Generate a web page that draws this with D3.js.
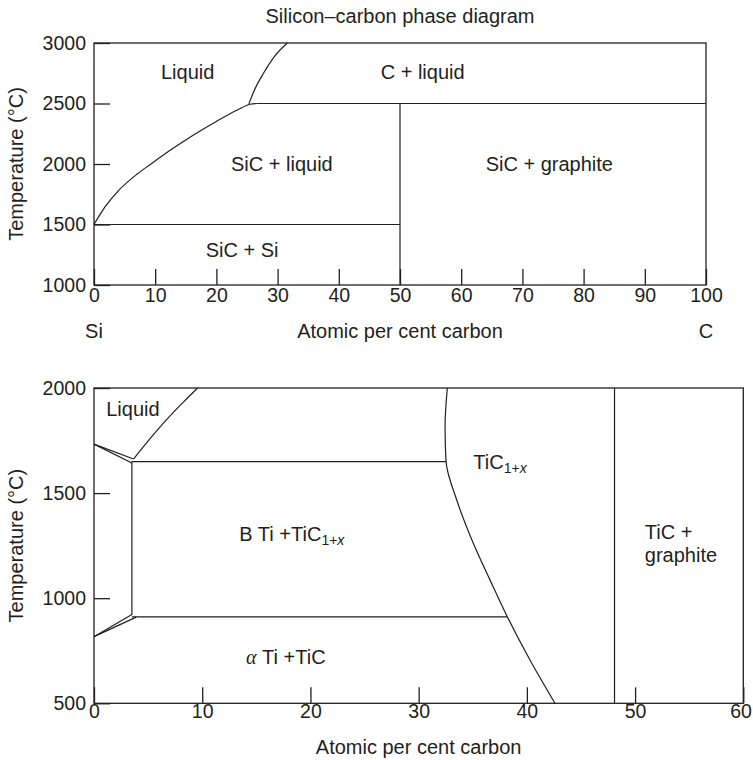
<!DOCTYPE html>
<html><head><meta charset="utf-8">
<script src="https://cdn.jsdelivr.net/npm/d3@7"></script>
<style>
body{margin:0;background:#fff}
svg text{font-family:"Liberation Sans",Arial,Helvetica,sans-serif;fill:#231f20}
</style>
</head><body>
<svg id="chart" width="753" height="760"></svg>
<script>
// ---------------- DATA ----------------
// Top panel: Si–C
const topTitle = "Silicon\u2013carbon phase diagram";
const topXDomain = [0, 100];
const topYDomain = [1000, 3000];
const topXTicks = [0, 10, 20, 30, 40, 50, 60, 70, 80, 90, 100];
const topYTicks = [1000, 1500, 2000, 2500, 3000];
const siLiquidus = [[0,1500],[1.8,1645],[4,1780],[7,1915],[9.3,2000],[12.5,2115],[16,2232],[20,2352],[23.5,2448],[25.5,2494],[26.6,2500]];
const siCLiquidus = [[25.3,2497],[26.2,2610],[27.7,2750],[29.5,2890],[31.6,3000]];
const siLines = [
  [[26.6,2500],[100,2500]],
  [[0,1500],[50,1500]],
  [[50,1000],[50,2500]]
];
const siLabels = [
  {t:"Liquid", x:15.3, y:2702},
  {t:"C + liquid", x:53.7, y:2702},
  {t:"SiC + liquid", x:30.7, y:1942},
  {t:"SiC + graphite", x:74.4, y:1942},
  {t:"SiC + Si", x:24.2, y:1229}
];
const topEndLabels = [{t:"Si", x:0}, {t:"C", x:100}];

// Bottom panel: Ti–C
const botXDomain = [0, 60];
const botYDomain = [500, 2000];
const botXTicks = [0, 10, 20, 30, 40, 50, 60];
const botYTicks = [500, 1000, 1500, 2000];
const tiLiquidus = [[3.65,1662],[5.2,1760],[6.9,1860],[8.3,1935],[9.58,2000]];
const tiCBoundary = [[32.65,2000],[32.44,1816],[32.53,1652],[33.52,1467],[35.06,1260],[36.6,1086],[38.2,911],[40.3,705],[42.6,500]];
const tiLines = [
  [[0,1733],[3.65,1662]],
  [[0,1733],[3.5,1643]],
  [[3.5,1650],[32.53,1650]],
  [[3.5,1650],[3.5,920]],
  [[0,817],[3.5,922]],
  [[0,817],[3.9,910]],
  [[3.5,911],[38.2,911]],
  [[48.1,500],[48.1,2000]]
];
const tiLabels = [
  {parts:[["Liquid","n"]], x:3.6, y:1867, anchor:"middle"},
  {parts:[["TiC","n"],["1+","s"],["x","si"]], x:35.05, y:1613, anchor:"start"},
  {parts:[["B Ti +TiC","n"],["1+","s"],["x","si"]], x:13.43, y:1271, anchor:"start"},
  {parts:[["\u03b1","g"],[" Ti +TiC","n"]], x:14.05, y:689, anchor:"start"},
  {parts:[["TiC +","n"]], x:50.9, y:1280, anchor:"start"},
  {parts:[["graphite","n"]], x:50.9, y:1171, anchor:"start"}
];
const xTitle = "Atomic per cent carbon";
const yTitle = "Temperature (\u00b0C)";

// ---------------- DRAW ----------------
const svg = d3.select("#chart");
const ink = "#231f20";
const TICK_FS = 19.5, LAB_FS = 20;

function panel(cfg) {
  const x = d3.scaleLinear().domain(cfg.xd).range([cfg.l, cfg.r]);
  const y = d3.scaleLinear().domain(cfg.yd).range([cfg.b, cfg.t]);
  const g = svg.append("g");
  g.append("rect").attr("x", cfg.l).attr("y", cfg.t)
    .attr("width", cfg.r - cfg.l).attr("height", cfg.b - cfg.t)
    .attr("fill", "none").attr("stroke", ink).attr("stroke-width", 1.3);
  const ax = g.append("g").attr("transform", `translate(0,${cfg.b})`)
    .call(d3.axisBottom(x).tickValues(cfg.xt).tickFormat(d3.format("d"))
      .tickSizeInner(-16).tickSizeOuter(0).tickPadding(cfg.xpad));
  const ay = g.append("g").attr("transform", `translate(${cfg.l},0)`)
    .call(d3.axisLeft(y).tickValues(cfg.yt).tickFormat(d3.format("d"))
      .tickSizeInner(-16).tickSizeOuter(0).tickPadding(8));
  [ax, ay].forEach(a => {
    a.select(".domain").remove();
    a.selectAll(".tick line").attr("stroke", ink).attr("stroke-width", 1.3);
    a.selectAll(".tick text").attr("font-size", TICK_FS)
      .attr("font-family", '"Liberation Sans",Arial,sans-serif').attr("fill", ink);
  });
  if (cfg.lastDx) {
    ax.selectAll(".tick text").filter(d => d === cfg.xd[1]).attr("dx", cfg.lastDx);
  }
  const line = d3.line().x(d => x(d[0])).y(d => y(d[1]));
  const curveX = d3.line().x(d => x(d[0])).y(d => y(d[1])).curve(d3.curveMonotoneX);
  const curveY = d3.line().x(d => x(d[0])).y(d => y(d[1])).curve(d3.curveMonotoneY);
  return {x, y, g, line, curveX, curveY};
}

function drawPath(p, d, gen) {
  p.g.append("path").attr("d", gen(d)).attr("fill", "none")
    .attr("stroke", ink).attr("stroke-width", 1.2);
}

// ---- Top panel
const T = panel({xd: topXDomain, yd: topYDomain, xt: topXTicks, yt: topYTicks,
  l: 94, r: 706, t: 43, b: 285, xpad: 3});
siLines.forEach(s => drawPath(T, s, T.line));
drawPath(T, siLiquidus, T.curveX);
drawPath(T, siCLiquidus, T.curveX);
T.g.selectAll("text.lab").data(siLabels).join("text").attr("class", "lab")
  .attr("x", d => T.x(d.x)).attr("y", d => T.y(d.y))
  .attr("text-anchor", "middle").attr("font-size", LAB_FS).text(d => d.t);
svg.append("text").attr("x", (T.x.range()[0] + T.x.range()[1]) / 2).attr("y", 22.5)
  .attr("text-anchor", "middle").attr("font-size", LAB_FS).text(topTitle);
svg.append("text").attr("x", (T.x.range()[0] + T.x.range()[1]) / 2).attr("y", 338)
  .attr("text-anchor", "middle").attr("font-size", LAB_FS).text(xTitle);
svg.selectAll("text.end").data(topEndLabels).join("text").attr("class", "end")
  .attr("x", d => T.x(d.x)).attr("y", 338).attr("text-anchor", "middle")
  .attr("font-size", LAB_FS).text(d => d.t);
svg.append("text").attr("transform", `translate(23,${(T.y.range()[0] + T.y.range()[1]) / 2}) rotate(-90)`)
  .attr("text-anchor", "middle").attr("font-size", LAB_FS).text(yTitle);

// ---- Bottom panel
const B = panel({xd: botXDomain, yd: botYDomain, xt: botXTicks, yt: botYTicks,
  l: 94, r: 743.3, t: 388, b: 703.3, xpad: 1, lastDx: -2.8});
tiLines.forEach(s => drawPath(B, s, B.line));
drawPath(B, tiLiquidus, B.curveX);
drawPath(B, tiCBoundary, B.curveY);
tiLabels.forEach(lab => {
  const t = B.g.append("text").attr("x", B.x(lab.x)).attr("y", B.y(lab.y))
    .attr("text-anchor", lab.anchor).attr("font-size", LAB_FS);
  let shifted = false;
  lab.parts.forEach(([s, k]) => {
    const ts = t.append("tspan").text(s);
    if (k === "s" || k === "si") {
      ts.attr("font-size", 14);
      if (!shifted) { ts.attr("dy", 4); shifted = true; }
      if (k === "si") ts.attr("font-style", "italic");
    } else if (k === "g") {
      ts.attr("font-family", '"Liberation Serif","DejaVu Serif",serif').attr("font-style", "italic");
    }
  });
});
svg.append("text").attr("x", (B.x.range()[0] + B.x.range()[1]) / 2).attr("y", 753.5)
  .attr("text-anchor", "middle").attr("font-size", LAB_FS).text(xTitle);
svg.append("text").attr("transform", `translate(23,${(B.y.range()[0] + B.y.range()[1]) / 2}) rotate(-90)`)
  .attr("text-anchor", "middle").attr("font-size", LAB_FS).text(yTitle);
</script>
</body></html>
